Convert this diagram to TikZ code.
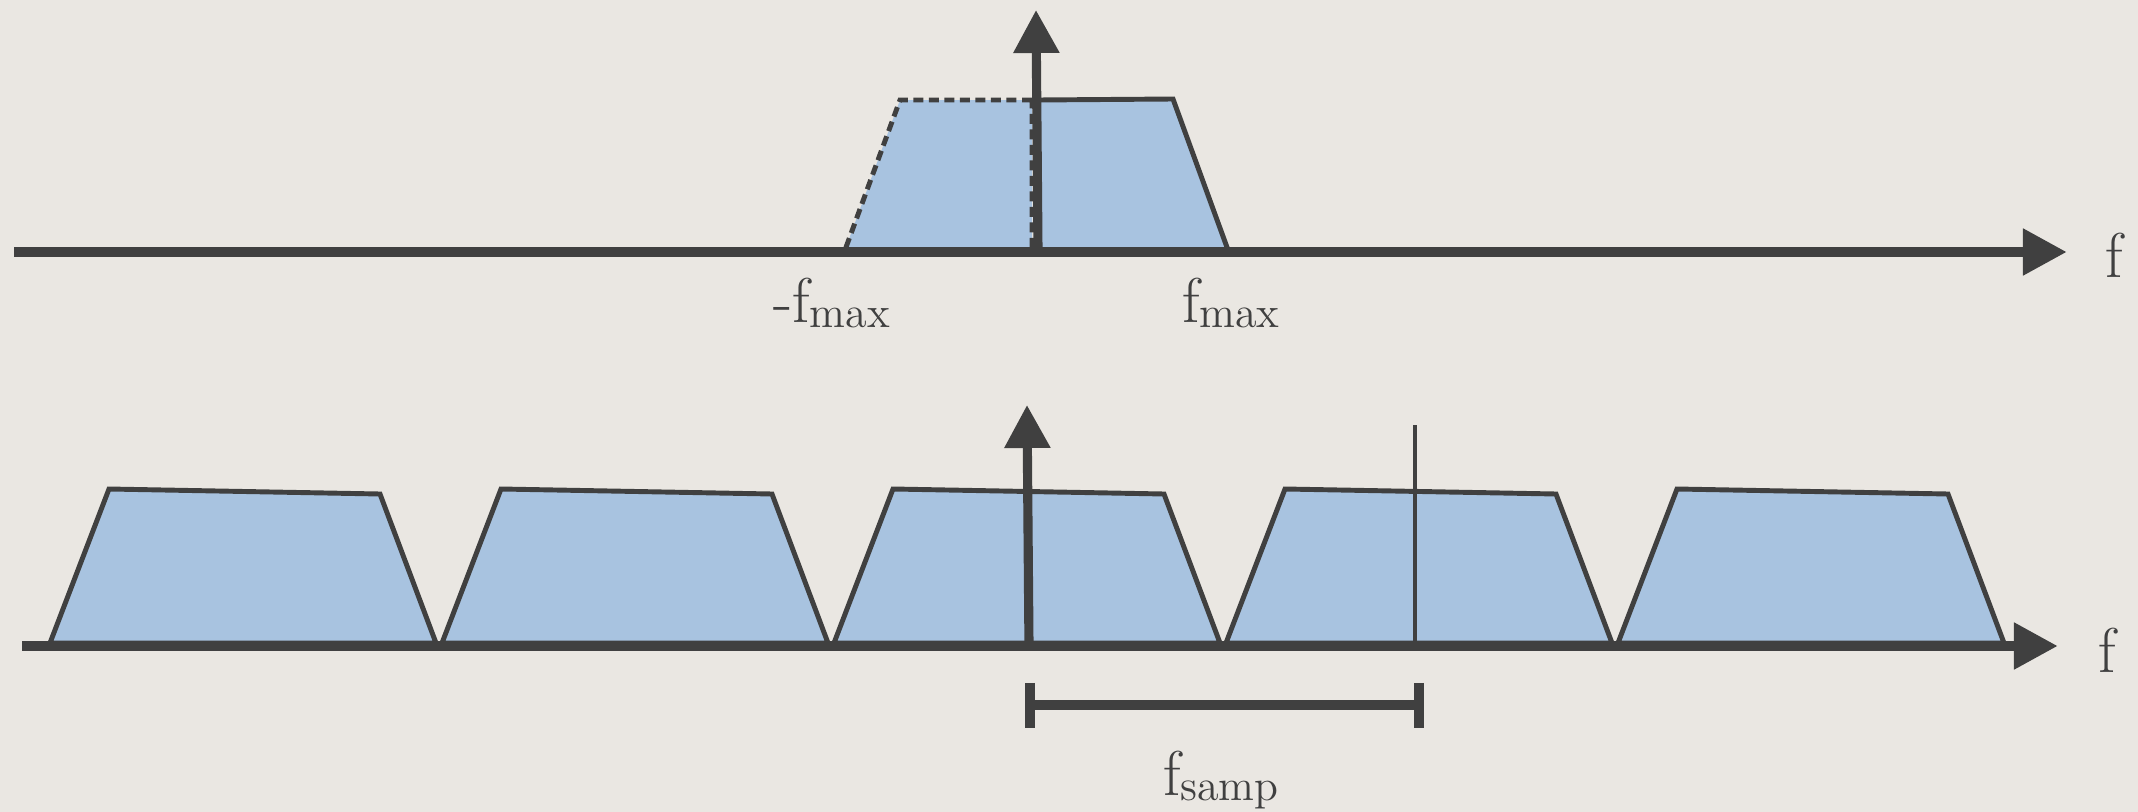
\documentclass[tikz,border=0pt]{standalone}
\usetikzlibrary{arrows.meta}
\definecolor{bg}{RGB}{234,231,226}
\definecolor{ink}{RGB}{64,64,64}
\definecolor{band}{RGB}{168,195,224}
\newcommand{\mysub}[1]{\raisebox{-1.5pt}{\fontsize{12.5}{14}\selectfont #1}}
\begin{document}
\begin{tikzpicture}[x=0.01cm,y=-0.01cm,
  axisline/.style={draw=ink,line width=3.1pt,-{Triangle[length=0.44cm,width=0.44cm]}},
  spec/.style={fill=band,draw=ink,line width=1.4pt,line join=miter},
  ghost/.style={fill=band,draw=ink,line width=1.4pt,dash pattern=on 0.1cm off 0.055cm},
  impulse/.style={draw=ink,line width=2.6pt,-{Triangle[length=0.43cm,width=0.44cm]}},
  thinline/.style={draw=ink,line width=1.4pt},
  bracket/.style={draw=ink,line width=2.8pt},
  lbl/.style={inner sep=0pt,outer sep=0pt,text=ink,font=\fontsize{18}{20}\selectfont,anchor=base west}]
\fill[bg] (0,0) rectangle (2138,812);
\useasboundingbox (0,0) rectangle (2138,812);

% ---------- top spectrum ----------
\coordinate (tA0) at (14,252);
\coordinate (tA1) at (2067,252);
\coordinate (tI0) at (1038,252);
\coordinate (tI1) at (1036,10);
\path[ghost] (1032,100) -- (900,100) -- (845,250) -- (1032,250) -- cycle;
\path[spec] (1038,100) -- (1173,99) -- (1228,250) -- (1038,250) -- cycle;
\draw[axisline] (tA0) -- (tA1);
\draw[impulse] (tI0) -- (tI1);

\node[lbl] (nfmax) at (773,322) {-f\mysub{max}};
\node[lbl] (pfmax) at (1182,322) {f\mysub{max}};
\node[lbl] (ftop) at (2105,277) {f};

% ---------- bottom spectrum ----------
\foreach \b in {50,442,834,1226,1618}
  \path[spec] (\b,643) -- ++(59,-154) -- ++(271,5) -- ({\b+386},643) -- cycle;
\coordinate (bA0) at (22,646);
\coordinate (bA1) at (2058,646);
\coordinate (bI0) at (1029,646);
\coordinate (bI1) at (1027,405);
\coordinate (bL0) at (1415,646);
\coordinate (bL1) at (1415,425);
\draw[axisline] (bA0) -- (bA1);
\draw[impulse] (bI0) -- (bI1);
\draw[thinline] (bL0) -- (bL1);

\coordinate (sL) at (1030,705);
\coordinate (sR) at (1419,705);
\draw[bracket] (sL) -- (sR);
\draw[bracket] ([yshift=0.22cm]sL) -- ([yshift=-0.23cm]sL);
\draw[bracket] ([yshift=0.22cm]sR) -- ([yshift=-0.23cm]sR);

\node[lbl] (fbot) at (2098,672) {f};
\node[lbl] (fsamp) at (1163,795) {f\mysub{samp}};
\end{tikzpicture}
\end{document}
